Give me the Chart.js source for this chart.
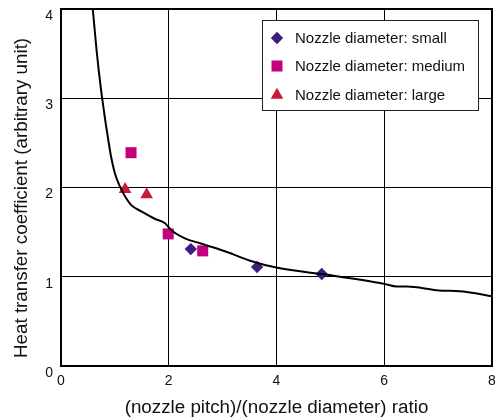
<!DOCTYPE html>
<html>
<head>
<meta charset="utf-8">
<script src="https://cdn.jsdelivr.net/npm/chart.js@4"></script>
<style>
  html, body { margin: 0; padding: 0; background: #fff; }
  canvas { display: block; }
</style>
</head>
<body>
<canvas id="chart" width="500" height="419"></canvas>
<script>
// fitted curve
const curveX = [0.59, 0.66, 0.742, 0.785, 0.829, 0.878, 0.928, 1.0, 1.095, 1.19, 1.31, 1.50, 1.74, 1.93, 2.05, 2.30, 2.58, 2.82, 3.07, 3.51, 4.02, 4.84, 6.0, 6.23, 6.42, 6.97, 7.53, 8.0];
const curveY = [4.0, 3.54, 3.10, 2.91, 2.72, 2.53, 2.35, 2.16, 2.01, 1.90, 1.80, 1.73, 1.65, 1.60, 1.52, 1.43, 1.375, 1.33, 1.28, 1.18, 1.10, 1.03, 0.92, 0.89, 0.89, 0.85, 0.83, 0.78];

// measured points
const smallX = [2.41, 3.64, 4.84];
const smallY = [1.31, 1.11, 1.03];
const mediumX = [1.30, 1.99, 2.63];
const mediumY = [2.39, 1.48, 1.29];
const largeX = [1.19, 1.59];
const largeY = [1.98, 1.92];

const seriesLabels = ['Nozzle diameter: small', 'Nozzle diameter: medium', 'Nozzle diameter: large'];
const xTicks = [0, 2, 4, 6, 8];
const yTicks = [0, 1, 2, 3, 4];

const toPoints = (xs, ys) => xs.map((x, i) => ({ x: x, y: ys[i] }));

// legend box drawn inside the plot, plus the heavy frame
const boxLegend = {
  id: 'boxLegend',
  afterDatasetsDraw(chart) {
    const ctx = chart.ctx;
    const area = chart.chartArea;
    ctx.save();
    ctx.strokeStyle = '#000';
    ctx.lineWidth = 2;
    ctx.strokeRect(area.left, area.top, area.right - area.left, area.bottom - area.top);
    ctx.restore();
  },
  afterDraw(chart) {
    const ctx = chart.ctx;
    const area = chart.chartArea;
    const w = 216, h = 90;
    const left = area.right - 14 - w;
    const top = area.top + 11;
    ctx.save();
    ctx.fillStyle = '#fff';
    ctx.fillRect(left, top, w, h);
    ctx.strokeStyle = '#222';
    ctx.lineWidth = 1;
    ctx.strokeRect(left + 0.5, top + 0.5, w, h);
    const rows = [18, 46, 75];
    let row = 0;
    chart.data.datasets.forEach(ds => {
      if (ds.showLine) return;
      const y = top + rows[row];
      ctx.fillStyle = ds.backgroundColor;
      ctx.strokeStyle = ds.backgroundColor;
      Chart.helpers.drawPoint(ctx, { pointStyle: ds.pointStyle, radius: ds.pointRadius, borderWidth: 0 }, left + 15, y);
      ctx.fillStyle = '#111';
      ctx.font = '15px "Liberation Sans", Arial, sans-serif';
      ctx.textBaseline = 'middle';
      ctx.textAlign = 'left';
      ctx.fillText(ds.label, left + 33, y + 1);
      row++;
    });
    ctx.restore();
  }
};

const fontFamily = '"Liberation Sans", Arial, Helvetica, sans-serif';

new Chart(document.getElementById('chart'), {
  type: 'scatter',
  data: {
    datasets: [
      {
        label: 'curve',
        data: toPoints(curveX, curveY),
        showLine: true,
        borderColor: '#000',
        borderWidth: 2,
        pointRadius: 0,
        cubicInterpolationMode: 'monotone'
      },
      {
        label: seriesLabels[0],
        data: toPoints(smallX, smallY),
        showLine: false,
        pointStyle: 'rectRot',
        pointRadius: 6.2,
        backgroundColor: '#3d1d80',
        borderColor: '#3d1d80',
        borderWidth: 0
      },
      {
        label: seriesLabels[1],
        data: toPoints(mediumX, mediumY),
        showLine: false,
        pointStyle: 'rect',
        pointRadius: 7.8,
        backgroundColor: '#c4007f',
        borderColor: '#c4007f',
        borderWidth: 0
      },
      {
        label: seriesLabels[2],
        data: toPoints(largeX, largeY),
        showLine: false,
        pointStyle: 'triangle',
        pointRadius: 7.3,
        backgroundColor: '#c8193a',
        borderColor: '#c8193a',
        borderWidth: 0
      }
    ]
  },
  options: {
    responsive: false,
    animation: false,
    layout: { padding: { top: 9, right: 8, left: 0, bottom: 0 } },
    plugins: {
      legend: { display: false },
      tooltip: { enabled: false }
    },
    scales: {
      x: {
        type: 'linear',
        min: 0,
        max: 8,
        afterBuildTicks: scale => { scale.ticks = xTicks.map(v => ({ value: v })); },
        afterFit: scale => {
          scale.height = 53;
          scale.paddingLeft = 0;
          scale.paddingRight = 0;
        },
        grid: { color: '#000', lineWidth: 1, drawTicks: false },
        border: { display: false },
        ticks: { color: '#111', padding: 7, font: { family: fontFamily, size: 14 }, maxRotation: 0 },
        title: {
          display: true,
          text: '(nozzle pitch)/(nozzle diameter) ratio',
          color: '#111',
          font: { family: fontFamily, size: 18.8 },
          padding: { top: 0, bottom: 0 }
        }
      },
      y: {
        type: 'linear',
        min: 0,
        max: 4,
        afterBuildTicks: scale => { scale.ticks = yTicks.map(v => ({ value: v })); },
        afterFit: scale => {
          scale.width = 61;
          scale.paddingTop = 0;
          scale.paddingBottom = 0;
        },
        grid: { color: '#000', lineWidth: 1, drawTicks: false },
        border: { display: false },
        ticks: { color: '#111', padding: 8, labelOffset: 7, font: { family: fontFamily, size: 14 } },
        title: {
          display: true,
          text: 'Heat transfer coefficient (arbitrary unit)    ',
          color: '#111',
          font: { family: fontFamily, size: 18.8 },
          padding: { top: 10.7, bottom: 0 }
        }
      }
    }
  },
  plugins: [boxLegend]
});
</script>
</body>
</html>
